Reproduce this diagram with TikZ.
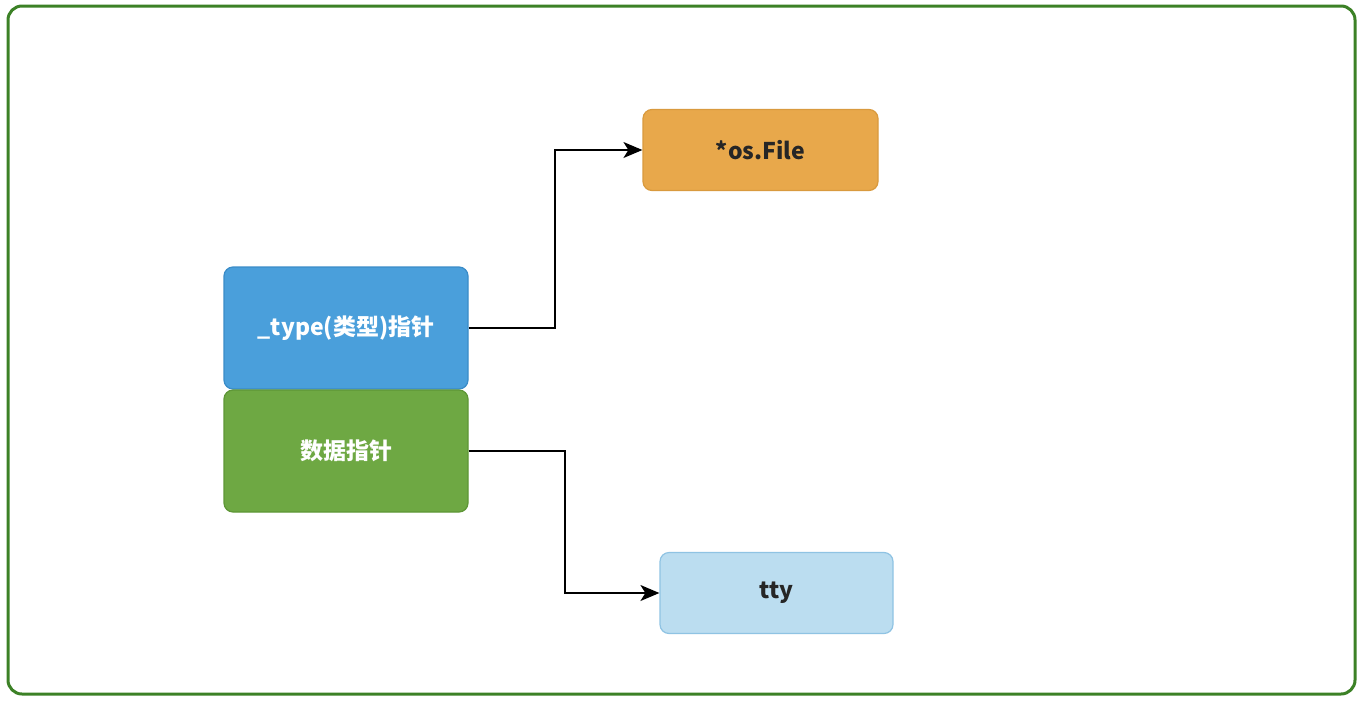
\documentclass[tikz,border=0pt]{standalone}
\usepackage{fontspec}
\setmainfont{Noto Sans}
\newfontfamily\cjk{Noto Sans CJK SC}
\usetikzlibrary{arrows.meta}
\definecolor{frame}{HTML}{3C8126}
\definecolor{bluebox}{HTML}{4A9FDB}
\definecolor{bluedraw}{HTML}{3A8CC8}
\definecolor{greenbox}{HTML}{6EA843}
\definecolor{greendraw}{HTML}{5E9636}
\definecolor{orangebox}{HTML}{E8A84B}
\definecolor{orangedraw}{HTML}{D99A3E}
\definecolor{lightbox}{HTML}{BBDDF0}
\definecolor{lightdraw}{HTML}{8FC3E3}
\tikzset{
  box/.style={rounded corners=9pt, line width=1.2pt, minimum width=244pt, minimum height=122pt, inner sep=0pt, font=\cjk\bfseries\fontsize{23}{27}\selectfont},
  conn/.style={line width=1.5pt, -{Stealth[length=19pt,width=16pt,inset=5pt]}},
}
\begin{document}
\begin{tikzpicture}[x=1pt,y=-1pt]
\useasboundingbox (0,0) rectangle (1362,702);
\draw[frame, line width=3pt, rounded corners=14pt] (8,6) rectangle (1355,694);
\node[box, fill=bluebox, draw=bluedraw, text=white] (type) at (346,328) {\_type(类型)指针};
\node[box, fill=greenbox, draw=greendraw, text=white] (data) at (346,451) {数据指针};
\node[box, fill=orangebox, draw=orangedraw, text=black!85, minimum width=235pt, minimum height=81pt] (file) at (760.5,150) {*os.File};
\node[box, fill=lightbox, draw=lightdraw, text=black!85, minimum width=233pt, minimum height=81pt] (tty) at (776.5,593) {tty};
\coordinate (b1) at (555,328);
\coordinate (b2) at (555,150);
\coordinate (c1) at (565,451);
\coordinate (c2) at (565,593);
\draw[conn] (type.east) -- (b1) -- (b2) -- (file.west);
\draw[conn] (data.east) -- (c1) -- (c2) -- (tty.west);
\end{tikzpicture}
\end{document}
